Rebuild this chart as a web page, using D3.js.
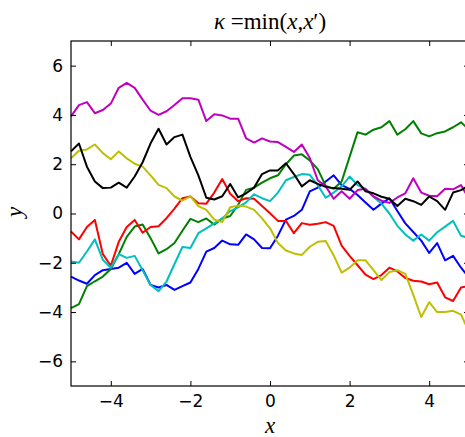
<!DOCTYPE html>
<html>
<head>
<meta charset="utf-8">
<script src="https://cdn.jsdelivr.net/npm/d3@7"></script>
<style>
  body { margin: 0; background: #fff; }
  svg { display: block; }
</style>
</head>
<body>
<svg width="465" height="437"></svg>
<script>
// sample positions shared by all draws
let xs = d3.range(51).map(i => -5 + i * 0.2);

// seven sample paths, one per colour
let blue = [-2.56, -2.72, -2.85, -2.5, -2.3, -2.25, -2.2, -2.0, -2.45, -2.25, -2.9, -3.0, -2.9, -3.1, -2.95, -2.8, -2.25, -1.55, -1.4, -1.1, -1.25, -1.27, -0.85, -1.05, -1.4, -1.41, -0.9, -0.25, -0.1, 0.15, 0.9, 1.05, 1.3, 1.55, 1.15, 1.0, 0.75, 0.45, 0.15, 0.4, 0.62, 0.1, -0.4, -0.75, -1.1, -1.6, -1.2, -1.9, -1.72, -2.2, -2.6];
let green = [-3.84, -3.68, -2.95, -2.75, -2.56, -2.25, -1.65, -0.95, -0.53, -0.45, -1.0, -1.62, -1.45, -1.2, -0.7, -0.22, -0.35, -0.2, -0.45, -0.2, -0.1, 0.35, 0.96, 1.05, 1.25, 1.43, 1.55, 2.0, 2.35, 2.4, 2.15, 1.8, 1.12, 1.0, 1.3, 2.3, 3.3, 3.2, 3.4, 3.5, 3.75, 3.2, 3.42, 3.75, 3.25, 3.13, 3.26, 3.33, 3.5, 3.7, 3.4];
let red = [-0.73, -1.05, -0.55, -0.26, -1.65, -2.12, -1.15, -0.55, -0.26, -0.78, -0.55, -0.52, -0.19, 0.2, 0.62, 0.69, 0.42, 0.4, 0.85, 1.4, 0.8, 0.5, 0.62, 0.6, 0.3, 0.01, -0.3, -0.3, -0.8, -0.39, -0.46, -0.42, -0.35, -0.5, -1.3, -1.72, -2.1, -2.48, -2.66, -2.5, -2.2, -2.35, -2.62, -2.73, -2.76, -2.87, -2.8, -3.4, -3.55, -3.0, -2.95];
let cyan = [-1.95, -2.0, -1.54, -1.05, -1.88, -2.2, -1.65, -1.8, -1.72, -2.3, -2.9, -3.15, -2.76, -2.05, -1.36, -1.4, -0.8, -0.6, -0.4, -0.2, 0.1, 0.25, 0.45, 0.78, 0.62, 0.5, 0.85, 1.35, 1.48, 1.6, 1.57, 1.15, 0.64, 0.85, 1.1, 1.5, 1.15, 1.0, 0.68, 0.4, 0.0, -0.5, -0.85, -1.1, -0.85, -1.1, -0.76, -0.53, -0.3, -0.9, -1.0];
let magenta = [3.94, 4.4, 4.52, 4.07, 4.2, 4.46, 5.1, 5.3, 5.1, 4.62, 4.17, 4.0, 4.15, 4.4, 4.68, 4.68, 4.62, 3.75, 4.03, 3.98, 3.85, 3.85, 3.05, 2.88, 3.05, 2.92, 2.9, 2.7, 2.5, 2.8, 2.25, 1.35, 1.1, 0.6, 0.9, 0.6, 0.95, 1.0, 0.69, 0.52, 0.43, 0.65, 0.82, 1.43, 0.85, 0.72, 0.7, 1.0, 0.98, 1.15, 0.6];
let yellow = [2.24, 2.55, 2.6, 2.8, 2.45, 2.2, 2.52, 2.24, 2.02, 1.9, 1.55, 1.16, 1.03, 0.69, 0.52, 0.7, 0.3, 0.15, -0.25, -0.35, 0.25, 0.32, 0.28, 0.15, -0.2, -0.6, -1.2, -1.5, -1.62, -1.68, -1.35, -1.15, -1.12, -1.7, -2.4, -2.2, -1.9, -1.9, -2.3, -2.7, -2.38, -2.3, -2.45, -3.3, -4.2, -3.6, -4.0, -4.0, -3.95, -4.1, -4.8];
let black = [2.52, 2.84, 1.9, 1.3, 1.03, 1.05, 1.25, 1.05, 1.5, 2.08, 2.85, 3.44, 2.8, 3.1, 3.2, 2.3, 1.55, 0.64, 0.57, 0.7, 1.2, 0.65, 0.82, 1.05, 1.6, 1.75, 1.75, 2.04, 1.6, 1.1, 1.35, 1.2, 1.08, 1.03, 1.0, 0.96, 1.3, 0.9, 0.82, 0.68, 0.6, 0.3, 0.6, 0.5, 0.35, 0.69, 0.5, 0.15, 0.85, 0.95, 1.15];

let series = [blue, green, red, cyan, magenta, yellow, black];
let colors = ["#0000ff", "#008000", "#ff0000", "#00bfbf", "#bf00bf", "#bfbf00", "#000000"];

let xTicks = [-4, -2, 0, 2, 4];
let yTicks = [-6, -4, -2, 0, 2, 4, 6];

let svg = d3.select("svg");
let plotLeft = 71, plotRight = 469, plotTop = 41, plotBottom = 386;

let x = d3.scaleLinear().domain([-5, 5]).range([plotLeft, plotRight]);
let y = d3.scaleLinear().domain([-7, 7]).range([plotBottom, plotTop]);

// the paths
let line = d3.line()
  .x((d, i) => x(xs[i]))
  .y(d => y(d));

svg.append("g")
  .selectAll("path")
  .data(series)
  .enter()
  .append("path")
  .attr("d", line)
  .attr("fill", "none")
  .attr("stroke", (d, i) => colors[i])
  .attr("stroke-width", 2)
  .attr("stroke-linejoin", "round");

// axes, ticks pointing in like classic matplotlib
let tickFont = "DejaVu Sans, sans-serif";

svg.append("g")
  .attr("transform", `translate(0,${plotBottom})`)
  .call(d3.axisBottom(x).tickValues(xTicks).tickSize(-5).tickPadding(9));
svg.append("g")
  .attr("transform", `translate(${plotLeft},0)`)
  .call(d3.axisLeft(y).tickValues(yTicks).tickSize(-5).tickPadding(8));
svg.append("g")
  .attr("transform", `translate(0,${plotTop})`)
  .call(d3.axisTop(x).tickValues(xTicks).tickSize(-5).tickFormat(""));
svg.append("g")
  .attr("transform", `translate(${plotRight},0)`)
  .call(d3.axisRight(y).tickValues(yTicks).tickSize(-5).tickFormat(""));

svg.selectAll(".domain").remove();
svg.selectAll(".tick line").attr("stroke", "#000").attr("stroke-width", 1);
svg.selectAll(".tick text")
  .attr("fill", "#000")
  .style("font-family", tickFont)
  .style("font-size", "17px");

// frame
svg.append("rect")
  .attr("x", plotLeft)
  .attr("y", plotTop)
  .attr("width", plotRight - plotLeft)
  .attr("height", plotBottom - plotTop)
  .attr("fill", "none")
  .attr("stroke", "#000")
  .attr("stroke-width", 1.2);

// title and axis labels
let serif = "Liberation Serif, DejaVu Serif, serif";
let title = svg.append("text")
  .attr("x", 270)
  .attr("y", 29)
  .attr("text-anchor", "middle")
  .style("font-family", serif)
  .style("font-size", "23px");
title.append("tspan").style("font-style", "italic").text("κ");
title.append("tspan").text(" =min(");
title.append("tspan").style("font-style", "italic").text("x");
title.append("tspan").text(",");
title.append("tspan").style("font-style", "italic").text("x");
title.append("tspan").text("′)");

svg.append("text")
  .attr("x", 270)
  .attr("y", 433)
  .attr("text-anchor", "middle")
  .style("font-family", serif)
  .style("font-style", "italic")
  .style("font-size", "23px")
  .text("x");

svg.append("text")
  .attr("transform", "translate(22,212) rotate(-90)")
  .attr("text-anchor", "middle")
  .style("font-family", serif)
  .style("font-style", "italic")
  .style("font-size", "23px")
  .text("y");
</script>
</body>
</html>
